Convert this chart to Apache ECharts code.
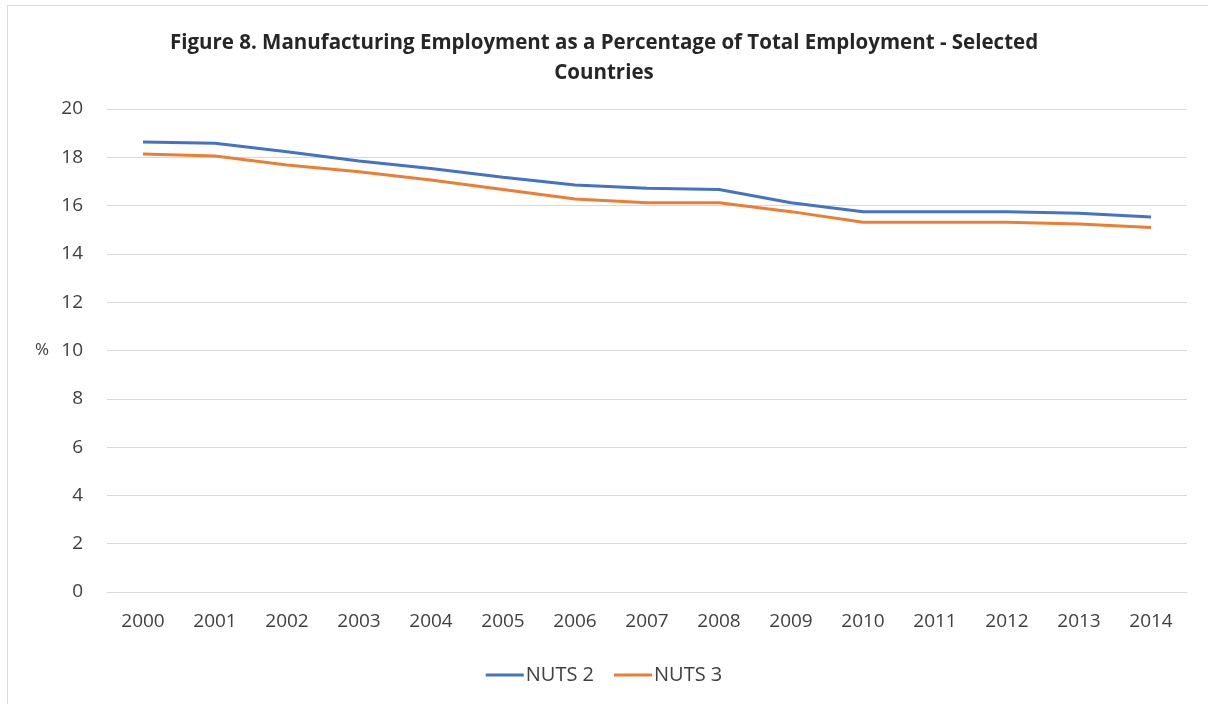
<!DOCTYPE html>
<html>
<head>
<meta charset="utf-8">
<script src="https://cdn.jsdelivr.net/npm/echarts@6/dist/echarts.min.js"></script>
<style>
  html, body { margin: 0; padding: 0; background: #fff; }
  #frame { position: absolute; left: 7px; top: 5px; width: 1220px; height: 720px; border: 1px solid #d9d9d9; }
  #chart { position: absolute; left: 0; top: 0; width: 1208px; height: 704px; }
</style>
</head>
<body>
<div id="frame"></div>
<div id="chart"></div>
<script>
const years = ['2000', '2001', '2002', '2003', '2004', '2005', '2006', '2007', '2008', '2009', '2010', '2011', '2012', '2013', '2014']
const nuts2 = [18.63, 18.58, 18.23, 17.85, 17.54, 17.17, 16.85, 16.72, 16.67, 16.12, 15.75, 15.75, 15.75, 15.68, 15.53]
const nuts3 = [18.14, 18.05, 17.68, 17.4, 17.06, 16.67, 16.27, 16.12, 16.12, 15.75, 15.31, 15.31, 15.31, 15.24, 15.09]

const labelFont = 'Open Sans'
const chart = echarts.init(document.getElementById('chart'))

chart.setOption({
  animation: false,
  title: {
    text: 'Figure 8. Manufacturing Employment as a Percentage of Total Employment - Selected\nCountries',
    left: 'center',
    top: 23,
    textStyle: {
      fontFamily: labelFont,
      fontWeight: 'bold',
      fontSize: 20.5,
      lineHeight: 30,
      color: '#262626'
    }
  },
  legend: {
    bottom: 14,
    left: 'center',
    icon: 'rect',
    itemWidth: 38,
    itemHeight: 3,
    itemGap: 20,
    textStyle: { fontFamily: labelFont, fontSize: 20, color: '#404040', padding: [0, 0, 0, -3] },
    data: ['NUTS 2', 'NUTS 3']
  },
  grid: {
    left: 107,
    right: 21,
    top: 109,
    bottom: 112
  },
  xAxis: {
    type: 'category',
    data: years,
    boundaryGap: true,
    axisLine: { lineStyle: { color: '#d9d9d9', width: 1 } },
    axisTick: { show: false },
    axisLabel: { fontFamily: labelFont, fontSize: 19, color: '#404040', margin: 20 }
  },
  yAxis: {
    type: 'value',
    min: 0,
    max: 20,
    interval: 2,
    name: '%',
    nameLocation: 'middle',
    nameRotate: 0,
    nameGap: 58,
    nameTextStyle: { fontFamily: labelFont, fontSize: 17, color: '#404040' },
    axisLine: { show: false },
    axisTick: { show: false },
    splitLine: { lineStyle: { color: '#d9d9d9', width: 1 } },
    axisLabel: { fontFamily: labelFont, fontSize: 19, color: '#404040', margin: 24 }
  },
  series: [{
    name: 'NUTS 2',
    type: 'line',
    data: nuts2,
    symbol: 'none',
    lineStyle: { color: '#4472C4', width: 3 },
    itemStyle: { color: '#4472C4' }
  }, {
    name: 'NUTS 3',
    type: 'line',
    data: nuts3,
    symbol: 'none',
    lineStyle: { color: '#ED7D31', width: 3 },
    itemStyle: { color: '#ED7D31' }
  }]
})
</script>
</body>
</html>
